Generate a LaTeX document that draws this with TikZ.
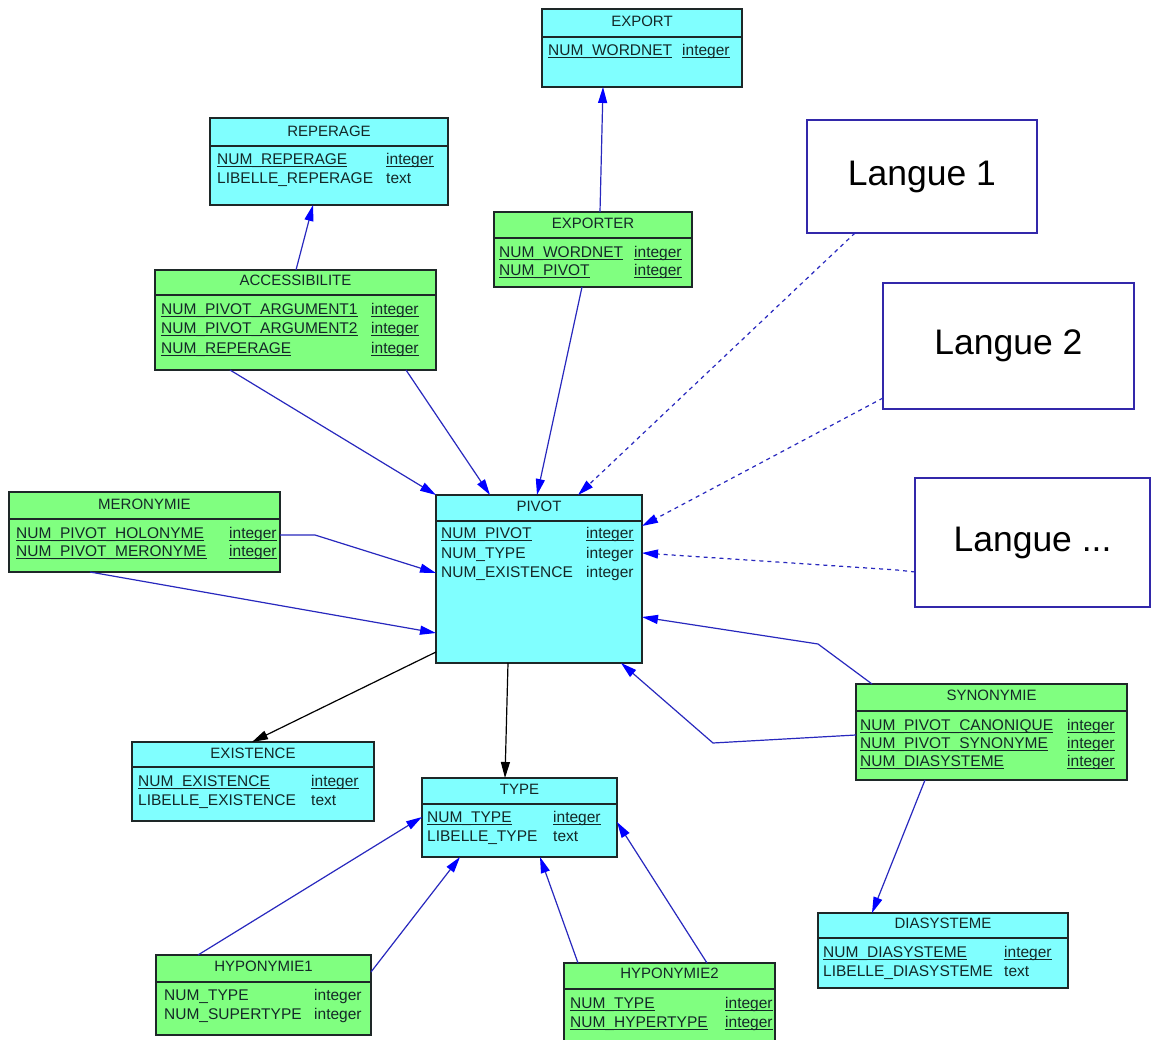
\documentclass[tikz,border=0pt]{standalone}
\usepackage{fontspec}
\setmainfont{Liberation Sans}
\usetikzlibrary{arrows.meta,calc}
\definecolor{cyanfill}{RGB}{128,255,255}
\definecolor{greenfill}{RGB}{128,255,128}
\definecolor{linkblue}{RGB}{40,40,190}
\definecolor{tipblue}{RGB}{0,0,255}
\definecolor{boxline}{RGB}{30,40,40}
\definecolor{txt}{RGB}{20,40,40}
\definecolor{langline}{RGB}{50,40,170}
\newcommand{\ulx}[1]{\setbox0=\hbox{#1}\rlap{\rule[-2.4pt]{\wd0}{0.9pt}}\box0}
\newcommand{\erbox}[9]{%
  \node[tbl, fill=#7, minimum width=#4-#2, minimum height=#5-#3, anchor=north west] (#1) at (#2,#3) {};
  \draw[tbl] (#2,#6) -- (#4,#6);
  \node[ttl] (#1t) at ({(#2+#4)/2},#8) {#9};}
\newcommand{\fld}[6]{%
  \node[cell] (#1a) at (#2,{#4+5.5}) {#5};
  \node[cell] (#1b) at (#3,{#4+5.5}) {#6};}
\begin{document}
\begin{tikzpicture}[x=1pt,y=-1pt,
  tbl/.style={draw=boxline, line width=1.4pt, inner sep=0pt, outer sep=0pt},
  ttl/.style={inner sep=0pt, text=txt, font=\fontsize{15}{18}\selectfont},
  cell/.style={anchor=base west, inner sep=0pt, text=txt, font=\fontsize{15.5}{18}\selectfont},
  link/.style={draw=linkblue, line width=1.2pt, -{Triangle[length=16pt,width=9pt,color=tipblue]}},
  blink/.style={draw=black, line width=1.2pt, -{Triangle[length=16pt,width=9pt,color=black]}},
  dlink/.style={link, dash pattern=on 4pt off 4pt},
  lang/.style={draw=langline, line width=1.3pt, fill=white, inner sep=0pt, outer sep=0pt, font=\fontsize{35.5}{40}\selectfont, text=black, anchor=north west}
]
\useasboundingbox (0,0) rectangle (1152,1040);
\fill[white] (0,0) rectangle (1152,1040);

\erbox{export}{542}{9}{742}{87}{37}{cyanfill}{21}{EXPORT}
\fld{exp1}{548}{682}{50}{\ulx{NUM\_WORDNET}}{\ulx{integer}}

\erbox{reperage}{210}{118}{448}{205}{146}{cyanfill}{131}{REPERAGE}
\fld{rep1}{217}{386}{159}{\ulx{NUM\_REPERAGE}}{\ulx{integer}}
\fld{rep2}{217}{386}{178}{LIBELLE\_REPERAGE}{text}

\erbox{exporter}{494}{212}{692}{287}{238}{greenfill}{223}{EXPORTER}
\fld{ex1}{499}{634}{252}{\ulx{NUM\_WORDNET}}{\ulx{integer}}
\fld{ex2}{499}{634}{270}{\ulx{NUM\_PIVOT}}{\ulx{integer}}

\erbox{access}{155}{270}{436}{370}{295}{greenfill}{280}{ACCESSIBILITE}
\fld{ac1}{161}{371}{309}{\ulx{NUM\_PIVOT\_ARGUMENT1}}{\ulx{integer}}
\fld{ac2}{161}{371}{328}{\ulx{NUM\_PIVOT\_ARGUMENT2}}{\ulx{integer}}
\fld{ac3}{161}{371}{348}{\ulx{NUM\_REPERAGE}}{\ulx{integer}}

\erbox{mero}{9}{492}{280}{572}{519}{greenfill}{504}{MERONYMIE}
\fld{me1}{16}{229}{533}{\ulx{NUM\_PIVOT\_HOLONYME}}{\ulx{integer}}
\fld{me2}{16}{229}{551}{\ulx{NUM\_PIVOT\_MERONYME}}{\ulx{integer}}

\erbox{pivot}{436}{495}{642}{663}{521}{cyanfill}{506}{PIVOT}
\fld{pi1}{441}{586}{533}{\ulx{NUM\_PIVOT}}{\ulx{integer}}
\fld{pi2}{441}{586}{553}{NUM\_TYPE}{integer}
\fld{pi3}{441}{586}{572}{NUM\_EXISTENCE}{integer}

\erbox{syno}{856}{684}{1127}{780}{711}{greenfill}{695}{SYNONYMIE}
\fld{sy1}{860}{1067}{725}{\ulx{NUM\_PIVOT\_CANONIQUE}}{\ulx{integer}}
\fld{sy2}{860}{1067}{743}{\ulx{NUM\_PIVOT\_SYNONYME}}{\ulx{integer}}
\fld{sy3}{860}{1067}{761}{\ulx{NUM\_DIASYSTEME}}{\ulx{integer}}

\erbox{exist}{132}{742}{374}{821}{767}{cyanfill}{753}{EXISTENCE}
\fld{es1}{138}{311}{781}{\ulx{NUM\_EXISTENCE}}{\ulx{integer}}
\fld{es2}{138}{311}{800}{LIBELLE\_EXISTENCE}{text}

\erbox{type}{422}{778}{617}{857}{804}{cyanfill}{789}{TYPE}
\fld{ty1}{427}{553}{817}{\ulx{NUM\_TYPE}}{\ulx{integer}}
\fld{ty2}{427}{553}{836}{LIBELLE\_TYPE}{text}

\erbox{hypoa}{156}{955}{371}{1035}{982}{greenfill}{966}{HYPONYMIE1}
\fld{ha1}{164}{314}{995}{NUM\_TYPE}{integer}
\fld{ha2}{164}{314}{1014}{NUM\_SUPERTYPE}{integer}

\erbox{hypob}{564}{963}{775}{1046}{989}{greenfill}{973}{HYPONYMIE2}
\fld{hb1}{570}{725}{1003}{\ulx{NUM\_TYPE}}{\ulx{integer}}
\fld{hb2}{570}{725}{1022}{\ulx{NUM\_HYPERTYPE}}{\ulx{integer}}

\erbox{diasys}{818}{913}{1068}{988}{938}{cyanfill}{923}{DIASYSTEME}
\fld{di1}{823}{1004}{952}{\ulx{NUM\_DIASYSTEME}}{\ulx{integer}}
\fld{di2}{823}{1004}{971}{LIBELLE\_DIASYSTEME}{text}

\node[lang, minimum width=230, minimum height=113] (lang1) at (807,120) {Langue 1};
\node[lang, minimum width=251, minimum height=126] (lang2) at (883,283) {Langue 2};
\node[lang, minimum width=235, minimum height=129] (langn) at (915,478) {Langue ...};

% connectors
\draw[link] (exporter.north -| 600,0) -- (export.south -| 603,0);
\draw[link] (access.north -| 296,0) -- (reperage.south -| 313,0);
\draw[link] (access.south -| 230,0) -- (pivot.north west);
\draw[link] (access.south -| 406,0) -- (pivot.north -| 490,0);
\draw[link] (exporter.south -| 582,0) -- (pivot.north -| 537,0);
\draw[dlink] (lang1.south -| 855,0) -- (pivot.north -| 578,0);
\draw[dlink] (lang2.west |- 0,398) -- (pivot.east |- 0,526);
\draw[dlink] (langn.west |- 0,572) -- (897,570) -- (pivot.east |- 0,553);
\draw[link] (mero.east |- 0,535) -- (315,535) -- (pivot.west |- 0,573);
\draw[link] (mero.south -| 90,0) -- (pivot.west |- 0,633);
\draw[blink] (pivot.west |- 0,652) -- (exist.north -| 252,0);
\draw[blink] (pivot.south -| 508,0) -- (type.north -| 505,0);
\draw[link] (syno.north -| 872,0) -- (818,644) -- (pivot.east |- 0,617);
\draw[link] (syno.west |- 0,735) -- (713,743) -- (pivot.south -| 621,0);
\draw[link] (syno.south -| 925,0) -- (diasys.north -| 872,0);
\draw[link] (hypoa.north -| 198,0) -- (type.west |- 0,817);
\draw[link] (hypoa.east |- 0,972) -- (type.south -| 460,0);
\draw[link] (hypob.north -| 578,0) -- (type.south -| 540,0);
\draw[link] (hypob.north -| 707,0) -- (type.east |- 0,822);
\end{tikzpicture}
\end{document}
